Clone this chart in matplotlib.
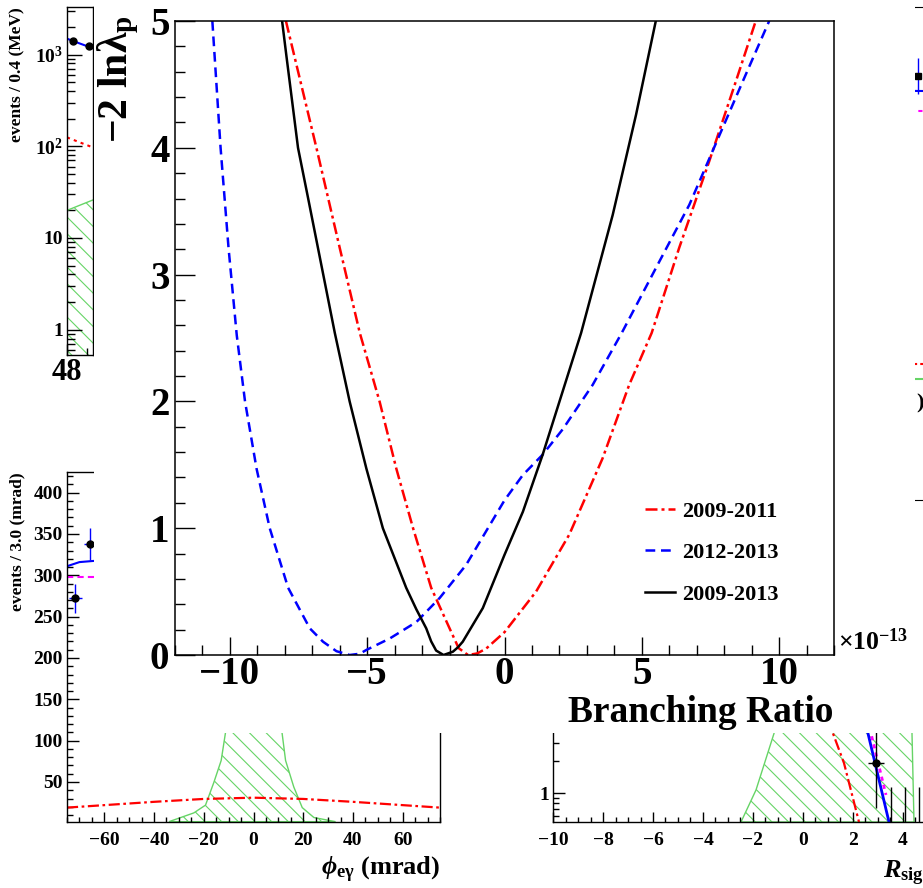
import matplotlib.pyplot as plt
from matplotlib.patches import Rectangle
from matplotlib.ticker import MultipleLocator, FixedLocator, FixedFormatter, NullFormatter

plt.rcParams['font.family'] = ['Liberation Serif', 'DejaVu Serif']
plt.rcParams['font.weight'] = 'bold'
plt.rcParams['mathtext.fontset'] = 'custom'
plt.rcParams['mathtext.rm'] = 'Liberation Serif:bold'
plt.rcParams['mathtext.it'] = 'Liberation Serif:italic:bold'
plt.rcParams['mathtext.bf'] = 'Liberation Serif:bold'
plt.rcParams['hatch.linewidth'] = 0.8

W, H = 923, 888

# -2 ln(lambda_p) scans vs branching ratio (x 1e-13)
br_0911 = [-7.96, -6.85, -6.0, -5.27, -4.55, -3.94, -3.33, -2.67, -2.0, -1.67,
           -1.33, -1.0, -0.67, 0.0, 1.15, 2.36, 3.57, 4.54, 5.36, 6.36,
           7.45, 8.42, 9.15]
nll_0911 = [5.0, 4.0, 3.21, 2.54, 2.0, 1.47, 1.0, 0.53, 0.21, 0.054,
            0.0, 0.012, 0.05, 0.18, 0.5, 0.95, 1.55, 2.13, 2.54, 3.21,
            3.89, 4.52, 5.0]

br_1213 = [-10.64, -10.34, -10.05, -9.75, -9.45, -9.03, -8.55, -7.88, -7.09, -6.61,
           -6.12, -5.64, -5.27, -5.03, -4.18, -3.21, -2.36, -1.40, 0.0, 0.67,
           1.39, 2.12, 3.21, 4.27, 5.51, 6.73, 7.69, 8.67, 9.64]
nll_1213 = [5.0, 4.0, 3.21, 2.52, 2.0, 1.47, 1.0, 0.53, 0.21, 0.105,
            0.03, 0.0, 0.01, 0.04, 0.13, 0.26, 0.45, 0.71, 1.22, 1.42,
            1.58, 1.78, 2.13, 2.54, 3.05, 3.55, 4.03, 4.52, 5.0]

br_0913 = [-8.10, -7.94, -7.52, -7.15, -6.18, -5.64, -5.03, -4.43, -3.58, -3.21,
           -2.85, -2.67, -2.49, -2.22, -1.88, -1.70, -1.52, -0.79, 0.0, 0.67,
           1.39, 2.12, 2.79, 3.94, 4.79, 5.51]
nll_0913 = [5.0, 4.72, 4.0, 3.60, 2.54, 2.0, 1.47, 1.0, 0.53, 0.36,
            0.21, 0.107, 0.035, 0.0, 0.026, 0.06, 0.105, 0.37, 0.79, 1.13,
            1.58, 2.08, 2.54, 3.47, 4.26, 5.0]

# E_gamma panel (top left)
eg_x = [48.15, 48.55]
eg_n = [1390, 1230]
eg_err = [37, 35]
eg_fit_x = [48.0, 48.3, 48.65]
eg_fit = [1490, 1330, 1170]
eg_acc_x = [48.0, 48.65]
eg_acc = [125, 97]
eg_sig_x = [48.0, 48.65]
eg_sig = [20, 26]

# phi_egamma panel (bottom left)
phi_x = [-71.6, -65.7]
phi_n = [272, 338]
phi_err = [17, 19]
phi_fit_x = [-75, -72, -70, -66, -62]
phi_fit = [311, 314, 316, 317, 318]
phi_rmd_x = [-75, -60]
phi_rmd = [298, 298]
phi_acc_x = [-75, -60, -40, -20, 0, 20, 40, 60, 75]
phi_acc = [19, 22, 26, 29.5, 31, 29.5, 26, 22, 19]
phi_sig_x = [-34, -24, -19.3, -16, -13, -11.3, 0, 11.5, 12.9, 16.2, 19.6, 24.3, 33]
phi_sig = [2, 12.6, 22, 49, 76, 109, 240, 109, 76, 44, 19, 7, 2]

# R_sig panel (bottom right)
r_pt_x = [2.92]
r_pt_n = [1.93]
r_empty_x = [3.52, 4.08, 4.64]
r_acc_x = [1.0, 1.2, 1.64, 2.24]
r_acc = [5.0, 3.7, 1.93, 0.53]
r_fit_x = [2.5, 2.6, 3.44]
r_fit = [5.0, 3.7, 0.53]
r_rmd_x = [2.65, 2.72, 3.32]
r_rmd = [5.0, 3.7, 0.96]
r_sig_x = [-2.48, -1.88, -1.16, -0.5, 4.3, 4.36, 4.44]
r_sig = [0.53, 1.07, 3.7, 30, 30, 3.7, 0.53]


def px_box(x0, y0, x1, y1):
    return [x0 / W, 1 - y1 / H, (x1 - x0) / W, (y1 - y0) / H]


def root_ticks(ax, size, major, minor, xpad, ypad):
    ax.tick_params(which='both', direction='in', top=False, right=False,
                   labelsize=size, width=1.0)
    ax.tick_params(axis='y', which='major', length=major[1], pad=ypad)
    ax.tick_params(axis='y', which='minor', length=minor[1])
    ax.tick_params(axis='x', which='major', length=major[0], pad=xpad)
    ax.tick_params(axis='x', which='minor', length=minor[0])
    for s in ax.spines.values():
        s.set_linewidth(1.0)


green = '#66d466'

fig = plt.figure(figsize=(W / 100, H / 100), dpi=100)

# ---- E_gamma panel
ax_e = fig.add_axes(px_box(67, 7, 93, 355), zorder=0)
ax_e.set_yscale('log')
ax_e.fill_between(eg_sig_x, 0.3, eg_sig, hatch='\\\\', facecolor='none',
                  edgecolor=green, linewidth=0)
ax_e.plot(eg_sig_x, eg_sig, color=green, lw=1)
ax_e.plot(eg_acc_x, eg_acc, color='red', lw=1.5, dashes=(1.5, 2))
ax_e.plot(eg_fit_x, eg_fit, color='blue', lw=1.5)
ax_e.errorbar(eg_x, eg_n, yerr=eg_err, fmt='o', color='black', ecolor='blue',
              ms=5, elinewidth=1)
ax_e.set_xlim(48, 48.65)
ax_e.set_ylim(0.53, 3300)
ax_e.xaxis.set_major_locator(FixedLocator([48]))
ax_e.xaxis.set_minor_locator(FixedLocator([48.5]))
ax_e.yaxis.set_major_locator(FixedLocator([1, 10, 100, 1000]))
ax_e.yaxis.set_major_formatter(FixedFormatter(
    ['1', '10', r'$\mathbf{10^{2}}$', r'$\mathbf{10^{3}}$']))
root_ticks(ax_e, 14, (8, 11), (5, 6), 2, 3)
ax_e.tick_params(axis='x', labelsize=22)
fig.text(17 / W, 1 - 7 / H, 'events / 0.4 (MeV)', rotation=90,
         ha='center', va='top', fontsize=12.5)

# ---- phi_egamma panel
ax_phi = fig.add_axes(px_box(67, 472, 440, 822), zorder=0)
ax_phi.fill(phi_sig_x, phi_sig, hatch='\\\\', facecolor='none',
            edgecolor=green, linewidth=1)
ax_phi.plot(phi_acc_x, phi_acc, color='red', lw=1.6, dashes=(5, 1.6, 1.2, 1.6))
ax_phi.plot(phi_rmd_x, phi_rmd, color='magenta', lw=1.5, dashes=(3, 2))
ax_phi.plot(phi_fit_x, phi_fit, color='blue', lw=1.5)
ax_phi.errorbar(phi_x, phi_n, yerr=phi_err, xerr=2.5, fmt='o', color='black',
                ecolor='blue', ms=5, elinewidth=1)
ax_phi.set_xlim(-75, 75)
ax_phi.set_ylim(1.6, 425)
ax_phi.xaxis.set_major_locator(MultipleLocator(20))
ax_phi.xaxis.set_minor_locator(MultipleLocator(5))
ax_phi.yaxis.set_major_locator(MultipleLocator(50))
ax_phi.yaxis.set_minor_locator(MultipleLocator(10))
ax_phi.set_yticks([50, 100, 150, 200, 250, 300, 350, 400])
root_ticks(ax_phi, 14, (7, 8.6), (3.6, 4.3), 7, 3)
fig.text(17 / W, 1 - 472 / H, 'events / 3.0 (mrad)', rotation=90,
         ha='center', va='top', fontsize=12.5)
fig.text(440 / W, 1 - 875 / H, r'$\phi_{\mathbf{e\gamma}}$ (mrad)',
         ha='right', va='baseline', fontsize=19)

# ---- R_sig panel
ax_r = fig.add_axes(px_box(553, 470, 928, 822), zorder=0)
ax_r.set_yscale('log')
ax_r.fill(r_sig_x, r_sig, hatch='\\\\', facecolor='none',
          edgecolor=green, linewidth=1)
ax_r.plot(r_acc_x, r_acc, color='red', lw=1.6, dashes=(5, 1.6, 1.2, 1.6))
ax_r.plot(r_fit_x, r_fit, color='blue', lw=2)
ax_r.plot(r_rmd_x, r_rmd, color='magenta', lw=2, dashes=(1.5, 1.5))
ax_r.vlines(r_empty_x, 0.3, 1.14, color='black', lw=1)
ax_r.errorbar(r_pt_x, r_pt_n, yerr=[[1.21], [2.0]], xerr=0.33, fmt='o',
              color='black', ecolor='black', ms=5, elinewidth=1)
ax_r.set_xlim(-10, 5)
ax_r.set_ylim(0.53, 1200)
ax_r.xaxis.set_major_locator(MultipleLocator(2))
ax_r.xaxis.set_minor_locator(MultipleLocator(0.5))
ax_r.yaxis.set_major_locator(FixedLocator([1, 10, 100, 1000]))
ax_r.yaxis.set_major_formatter(FixedFormatter(['1', '10', '', '']))
ax_r.yaxis.set_minor_formatter(NullFormatter())
root_ticks(ax_r, 14, (7, 8.6), (3.6, 4.3), 7, 3)
fig.text(883 / W, 1 - 878 / H, r'$R_{\mathbf{sig}}$', ha='left',
         va='baseline', fontsize=19)

# ---- right-hand panel edge
side_pt_x = [0.317]
side_pt_y = [0.86]
ax_s = fig.add_axes(px_box(880, 7, 1000, 500), zorder=0)
ax_s.set_xlim(0, 1)
ax_s.set_ylim(0, 1)
ax_s.plot([0.2, 1.0], [0.83, 0.828], color='blue', lw=1.5)
ax_s.plot([0.25, 1.0], [0.79, 0.79], color='magenta', lw=1.5, dashes=(2, 2))
ax_s.errorbar(side_pt_x, side_pt_y, yerr=0.037, fmt='s', color='black',
              ecolor='blue', ms=4, elinewidth=1)
ax_s.plot([0.28, 0.5], [0.275, 0.275], color='red', lw=1.5, dashes=(1.5, 1.5))
ax_s.plot([0.28, 0.5], [0.246, 0.246], color=green, lw=1.5)
ax_s.text(0.3, 0.195, ')', fontsize=16, va='center')
ax_s.set_xticks([])
ax_s.set_yticks([])
ax_s.spines['left'].set_visible(False)

# white canvas of the likelihood plot
fig.add_artist(Rectangle((94 / W, 1 - 733 / H), (915 - 94) / W, 733 / H,
                         transform=fig.transFigure, facecolor='white',
                         edgecolor='none', zorder=1))

# ---- likelihood scan
ax = fig.add_axes(px_box(175, 21, 834, 655), zorder=2)
ax.plot(br_0911, nll_0911, color='red', lw=1.8, dashes=(4.8, 1.6, 1.2, 1.6),
        label='2009-2011')
ax.plot(br_1213, nll_1213, color='blue', lw=1.8, dashes=(3.9, 2.3),
        label='2012-2013')
ax.plot(br_0913, nll_0913, color='black', lw=1.8, label='2009-2013')
ax.set_xlim(-12, 12)
ax.set_ylim(0, 5)
ax.xaxis.set_major_locator(MultipleLocator(5))
ax.xaxis.set_minor_locator(MultipleLocator(1))
ax.yaxis.set_major_locator(MultipleLocator(1))
ax.yaxis.set_minor_locator(MultipleLocator(0.2))
root_ticks(ax, 28, (13, 14.4), (7.2, 7.2), 1, 4)
for s in ax.spines.values():
    s.set_linewidth(1.1)

ax.legend(loc='upper left', bbox_to_anchor=((645 - 175) / 659, (655 - 501) / 634),
          frameon=False, borderpad=0, borderaxespad=0, handlelength=1.35,
          handletextpad=0.33, labelspacing=0.95,
          prop={'weight': 'bold', 'size': 16})

fig.text(118 / W, 1 - 15 / H, r'$\mathbf{-2\ ln\lambda_{p}}$', rotation=90,
         ha='center', va='top', fontsize=30, zorder=3)
fig.text(833 / W, 1 - 722 / H, 'Branching Ratio', ha='right', va='baseline',
         fontsize=27, zorder=3)
fig.text(838 / W, 1 - 650 / H, r'$\mathbf{\times10^{-13}}$', ha='left',
         va='baseline', fontsize=18.5, zorder=3)

fig.savefig('out.png', dpi=100)
